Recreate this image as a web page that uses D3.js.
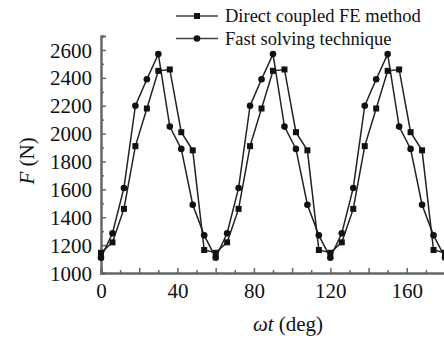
<!DOCTYPE html>
<html>
<head>
<meta charset="utf-8">
<script src="https://cdn.jsdelivr.net/npm/d3@7"></script>
<style>
  body { margin: 0; background: #fff; }
  svg, svg text { font-family: "Liberation Serif", "Times New Roman", "DejaVu Serif", serif; }
</style>
</head>
<body>
<div id="chart"></div>
<script>
const serifFont = '"Liberation Serif", "Times New Roman", "DejaVu Serif", serif';

// angle samples (deg), one every 6 degrees
const angles = d3.range(0, 181, 6);
// Direct coupled FE method (squares)
const directFE = [1145, 1220, 1460, 1910, 2180, 2450, 2460, 2010, 1880, 1165,
                  1145, 1220, 1460, 1910, 2180, 2450, 2460, 2010, 1880, 1165,
                  1145, 1220, 1460, 1910, 2180, 2450, 2460, 2010, 1880, 1165,
                  1145];
// Fast solving technique (circles)
const fastSolve = [1110, 1285, 1610, 2200, 2390, 2570, 2050, 1890, 1490, 1270,
                   1110, 1285, 1610, 2200, 2390, 2570, 2050, 1890, 1490, 1270,
                   1110, 1285, 1610, 2200, 2390, 2570, 2050, 1890, 1490, 1270,
                   1110];
const xLabelTicks = [0, 40, 80, 120, 160];
const yLabelTicks = [1000, 1200, 1400, 1600, 1800, 2000, 2200, 2400, 2600];
const seriesNames = ['Direct coupled FE method', 'Fast solving technique'];

const width = 444, height = 345;
const lineColor = '#222';
const axisColor = '#666';

const svg = d3.select('#chart').append('svg')
    .attr('width', width)
    .attr('height', height)
    .attr('font-family', serifFont);

// Scales
const xScale = d3.scaleLinear().domain([0, 180]).range([101, 445]);
const yScale = d3.scaleLinear().domain([1000, 2700]).range([273, 36]);

// Axes (ticks point inward)
const xMajor = d3.axisBottom(xScale).tickValues(d3.range(0, 181, 20))
    .tickSize(-5).tickFormat(d => xLabelTicks.includes(d) ? d : '');
const xMinor = d3.axisBottom(xScale).tickValues(d3.range(10, 181, 20))
    .tickSize(-3).tickFormat('');
const yMajor = d3.axisLeft(yScale).tickValues(yLabelTicks)
    .tickSize(-5).tickFormat(d => d);
const yMinor = d3.axisLeft(yScale).tickValues(d3.range(1100, 2701, 200))
    .tickSize(-3).tickFormat('');

const styleAxis = g => {
    g.attr('font-family', serifFont).attr('font-size', 21);
    g.select('.domain').attr('stroke', axisColor).attr('stroke-width', 2);
    g.selectAll('.tick line').attr('stroke', axisColor).attr('stroke-width', 1.5);
    g.selectAll('.tick text').attr('fill', '#111');
};

svg.append('g').attr('transform', 'translate(0,273)').call(xMinor).call(styleAxis);
svg.append('g').attr('transform', 'translate(0,273)').call(xMajor).call(styleAxis)
    .selectAll('.tick text').attr('dy', '0.71em').attr('y', 10);
svg.append('g').attr('transform', 'translate(101,0)').call(yMinor).call(styleAxis);
svg.append('g').attr('transform', 'translate(101,0)').call(yMajor).call(styleAxis)
    .selectAll('.tick text').attr('x', -9).attr('dy', '0.34em');

// Lines and markers
const line = d3.line()
    .x((d, i) => xScale(angles[i]))
    .y(d => yScale(d));

const plot = svg.append('g');
plot.append('path').datum(directFE)
    .attr('d', line).attr('fill', 'none')
    .attr('stroke', lineColor).attr('stroke-width', 1.5);
plot.append('path').datum(fastSolve)
    .attr('d', line).attr('fill', 'none')
    .attr('stroke', lineColor).attr('stroke-width', 1.5);

plot.selectAll('.sq').data(directFE).enter().append('rect')
    .attr('class', 'sq')
    .attr('x', (d, i) => xScale(angles[i]) - 3)
    .attr('y', d => yScale(d) - 3)
    .attr('width', 6).attr('height', 6)
    .attr('fill', '#111');
plot.selectAll('.dot').data(fastSolve).enter().append('circle')
    .attr('class', 'dot')
    .attr('cx', (d, i) => xScale(angles[i]))
    .attr('cy', d => yScale(d))
    .attr('r', 3.3)
    .attr('fill', '#111');

// Legend
const legend = svg.append('g');
seriesNames.forEach((name, i) => {
    const y = 16 + i * 22.5;
    legend.append('line')
        .attr('x1', 176).attr('x2', 218).attr('y1', y).attr('y2', y)
        .attr('stroke', '#444').attr('stroke-width', 1.5);
    if (i === 0) {
        legend.append('rect').attr('x', 194).attr('y', y - 3)
            .attr('width', 6).attr('height', 6).attr('fill', '#111');
    } else {
        legend.append('circle').attr('cx', 197).attr('cy', y).attr('r', 3.3).attr('fill', '#111');
    }
    legend.append('text')
        .attr('x', 225).attr('y', y + 6)
        .attr('fill', '#111')
        .attr('font-family', serifFont)
        .attr('font-size', 18.5)
        .text(name);
});

// Axis titles
const xTitle = svg.append('text')
    .attr('x', 288).attr('y', 331)
    .attr('text-anchor', 'middle')
    .attr('fill', '#111')
    .attr('font-family', serifFont)
    .attr('font-size', 21);
xTitle.append('tspan').attr('font-style', 'italic').text('ωt');
xTitle.append('tspan').text(' (deg)');

const yTitle = svg.append('text')
    .attr('transform', 'translate(34,161) rotate(-90)')
    .attr('text-anchor', 'middle')
    .attr('fill', '#111')
    .attr('font-family', serifFont)
    .attr('font-size', 21);
yTitle.append('tspan').attr('font-style', 'italic').text('F');
yTitle.append('tspan').text(' (N)');
</script>
</body>
</html>
